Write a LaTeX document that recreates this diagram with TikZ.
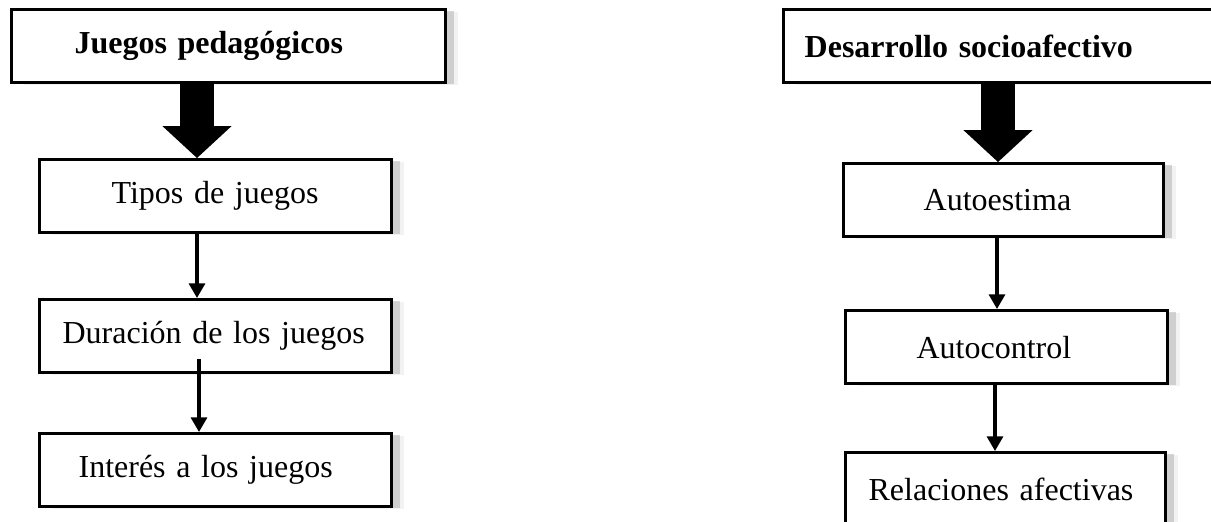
\documentclass[tikz,border=0pt]{standalone}
\usepackage{fontspec}
\setmainfont{Liberation Serif}
\usetikzlibrary{arrows.meta,shadows}

\begin{document}
\begin{tikzpicture}[x=0.375pt, y=-0.375pt,
    box/.style={draw, line width=1.25pt, fill=white, align=left, anchor=north west,
      minimum height=27.4pt, inner ysep=0pt, font=\fontsize{12}{14}\selectfont,
      drop shadow={shadow xshift=4.5pt, shadow yshift=-1pt, fill=black!10},
      drop shadow={shadow xshift=3pt, shadow yshift=-0.5pt, fill=black!32}},
    title/.style={box, font=\fontsize{12}{14}\selectfont\bfseries},
    bigarrow/.style={line width=13pt, -{Triangle[width=26pt, length=12pt, line width=0pt]}},
    link/.style={line width=1.2pt, -{Triangle[width=6pt, length=5.5pt]}}]
    \useasboundingbox (0,0) rectangle (1211,521);
    \clip (0,0) rectangle (1211,521);

    % left column
    \node[title, inner xsep=23.6pt, text width=115.5pt] (juegos) at (10,8) {Juegos pedagógicos};
    \node[box, inner xsep=27pt, text width=78pt] (tipos) at (38,158) {Tipos de juegos};
    \node[box, inner xsep=8.6pt, text width=114.75pt] (duracion) at (38,298) {Duración de los juegos};
    \node[box, inner xsep=14.6pt, text width=102.75pt] (interes) at (38,432) {Interés a los juegos};

    % right column
    \node[title, inner xsep=7.9pt, text width=149.2pt] (desarrollo) at (782,8) {Desarrollo socioafectivo};
    \node[box, inner xsep=30pt, text width=60pt] (autoestima) at (842,162) {Autoestima};
    \node[box, inner xsep=26.6pt, text width=67.5pt] (autocontrol) at (844,309) {Autocontrol};
    \node[box, inner xsep=8.6pt, text width=102.75pt] (relaciones) at (844,451) {Relaciones afectivas};

    \coordinate (l1) at (197,0);
    \coordinate (l2) at (199,359); % starts inside the box
    \coordinate (r1) at (998,0);
    \coordinate (r2) at (997,0);
    \coordinate (r3) at (995,0);

    \draw[bigarrow] (juegos.south -| l1) -- (tipos.north -| l1);
    \draw[link] (tipos.south -| l1) -- (duracion.north -| l1);
    \draw[link] (l2) -- (interes.north -| l2);
    \draw[bigarrow] (desarrollo.south -| r1) -- (autoestima.north -| r1);
    \draw[link] (autoestima.south -| r2) -- (autocontrol.north -| r2);
    \draw[link] (autocontrol.south -| r3) -- (relaciones.north -| r3);
\end{tikzpicture}
\end{document}
